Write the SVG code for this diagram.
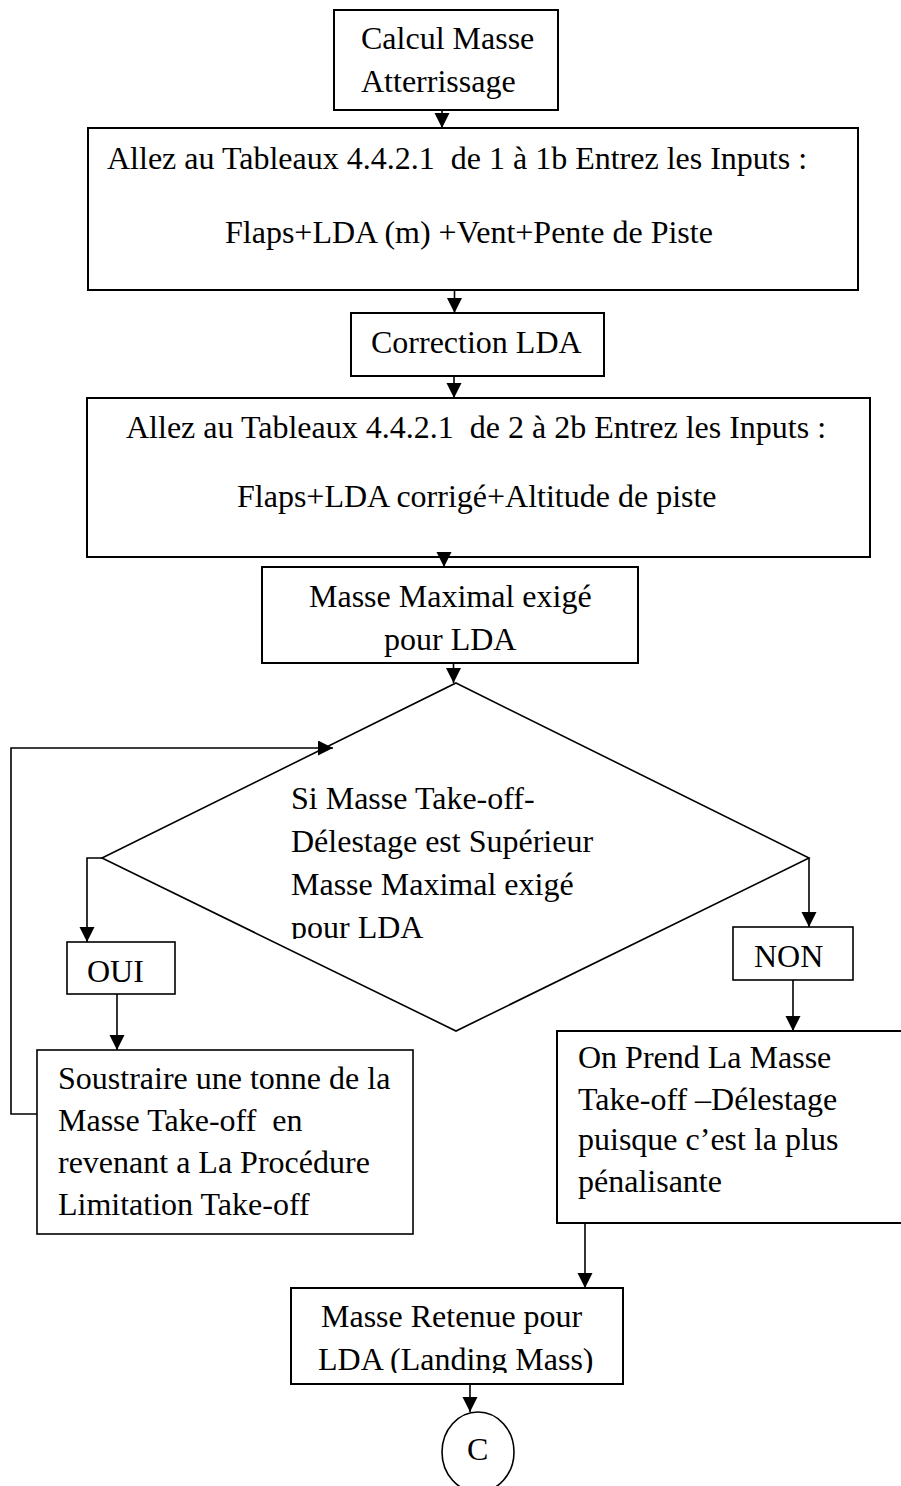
<svg xmlns="http://www.w3.org/2000/svg" width="901" height="1486" viewBox="0 0 901 1486">
  <style>
    .box { fill: #ffffff; stroke: #000000; stroke-width: 2; }
    .shape { fill: #ffffff; stroke: #000000; stroke-width: 1.6; }
    .txt { font-family: "Liberation Serif", "Times New Roman", serif; font-size: 32px; fill: #000000; white-space: pre; }
    .link { fill: none; stroke: #000000; stroke-width: 1.6; marker-end: url(#head); }
  </style>
  <defs>
    <marker id="head" markerUnits="userSpaceOnUse" markerWidth="18" markerHeight="18" refX="15" refY="7.5" orient="auto">
      <path d="M0,0 L15,7.5 L0,15 z" fill="#000000"/>
    </marker>
    <clipPath id="clipDecision"><rect x="0" y="0" width="901" height="939"/></clipPath>
    <clipPath id="clipRetenue"><rect x="0" y="0" width="901" height="1373"/></clipPath>
  </defs>
  <rect width="901" height="1486" fill="#ffffff"/>

  <g id="start">
    <rect class="box" x="334" y="10" width="224" height="100"/>
    <text class="txt" x="361" y="49">Calcul Masse</text>
    <text class="txt" x="361" y="92">Atterrissage</text>
  </g>

  <g id="inputs1">
    <rect class="box" x="88" y="128" width="770" height="162"/>
    <text class="txt" x="107" y="169" xml:space="preserve">Allez au Tableaux 4.4.2.1  de 1 à 1b Entrez les Inputs :</text>
    <text class="txt" x="225" y="243">Flaps+LDA (m) +Vent+Pente de Piste</text>
  </g>

  <g id="correction">
    <rect class="box" x="351" y="313" width="253" height="63"/>
    <text class="txt" x="371" y="353">Correction LDA</text>
  </g>

  <g id="inputs2">
    <rect class="box" x="87" y="398" width="783" height="159"/>
    <text class="txt" x="126" y="438" xml:space="preserve">Allez au Tableaux 4.4.2.1  de 2 à 2b Entrez les Inputs :</text>
    <text class="txt" x="237" y="507">Flaps+LDA corrigé+Altitude de piste</text>
  </g>

  <g id="maxMass">
    <rect class="box" x="262" y="567" width="376" height="96"/>
    <text class="txt" x="309" y="607">Masse Maximal exigé</text>
    <text class="txt" x="384" y="650">pour LDA</text>
  </g>

  <g id="decision">
    <polygon class="shape" points="456,683 809,858 456,1031 102,858"/>
    <g clip-path="url(#clipDecision)">
      <text class="txt" x="291" y="809">Si Masse Take-off-</text>
      <text class="txt" x="291" y="852">Délestage est Supérieur</text>
      <text class="txt" x="291" y="895">Masse Maximal exigé</text>
      <text class="txt" x="291" y="938">pour LDA</text>
    </g>
  </g>

  <g id="oui">
    <rect class="shape" x="67" y="942" width="108" height="52"/>
    <text class="txt" x="87" y="982">OUI</text>
  </g>

  <g id="non">
    <rect class="shape" x="733" y="927" width="120" height="53"/>
    <text class="txt" x="754" y="967">NON</text>
  </g>

  <g id="subtract">
    <rect class="shape" x="37" y="1050" width="376" height="184"/>
    <text class="txt" x="58" y="1089">Soustraire une tonne de la</text>
    <text class="txt" x="58" y="1131" xml:space="preserve">Masse Take-off  en</text>
    <text class="txt" x="58" y="1173">revenant a La Procédure</text>
    <text class="txt" x="58" y="1215">Limitation Take-off</text>
  </g>

  <g id="takeMass">
    <rect class="box" x="557" y="1031" width="350" height="192"/>
    <text class="txt" x="578" y="1068">On Prend La Masse</text>
    <text class="txt" x="578" y="1110">Take-off –Délestage</text>
    <text class="txt" x="578" y="1150">puisque c’est la plus</text>
    <text class="txt" x="578" y="1192">pénalisante</text>
  </g>

  <g id="retained">
    <rect class="box" x="291" y="1288" width="332" height="96"/>
    <g clip-path="url(#clipRetenue)">
      <text class="txt" x="321" y="1327">Masse Retenue pour</text>
      <text class="txt" x="318" y="1370">LDA (Landing Mass)</text>
    </g>
  </g>

  <g id="connectorC">
    <ellipse class="shape" cx="478" cy="1452" rx="36" ry="40"/>
    <text class="txt" x="467" y="1460">C</text>
  </g>

  <g id="connectors">
    <path class="link" d="M442,110 V128"/>
    <path class="link" d="M454.5,290 V313"/>
    <path class="link" d="M454,376 V398"/>
    <path class="link" d="M444,552 V567"/>
    <path class="link" d="M453.5,663 V683"/>
    <path class="link" d="M37,1114 H11 V748 H333"/>
    <path class="link" d="M102,858 H87 V942"/>
    <path class="link" d="M117,994 V1050"/>
    <path class="link" d="M809,858 V927"/>
    <path class="link" d="M793,980 V1031"/>
    <path class="link" d="M585,1223 V1288"/>
    <path class="link" d="M470,1384 V1412"/>
  </g>
</svg>
